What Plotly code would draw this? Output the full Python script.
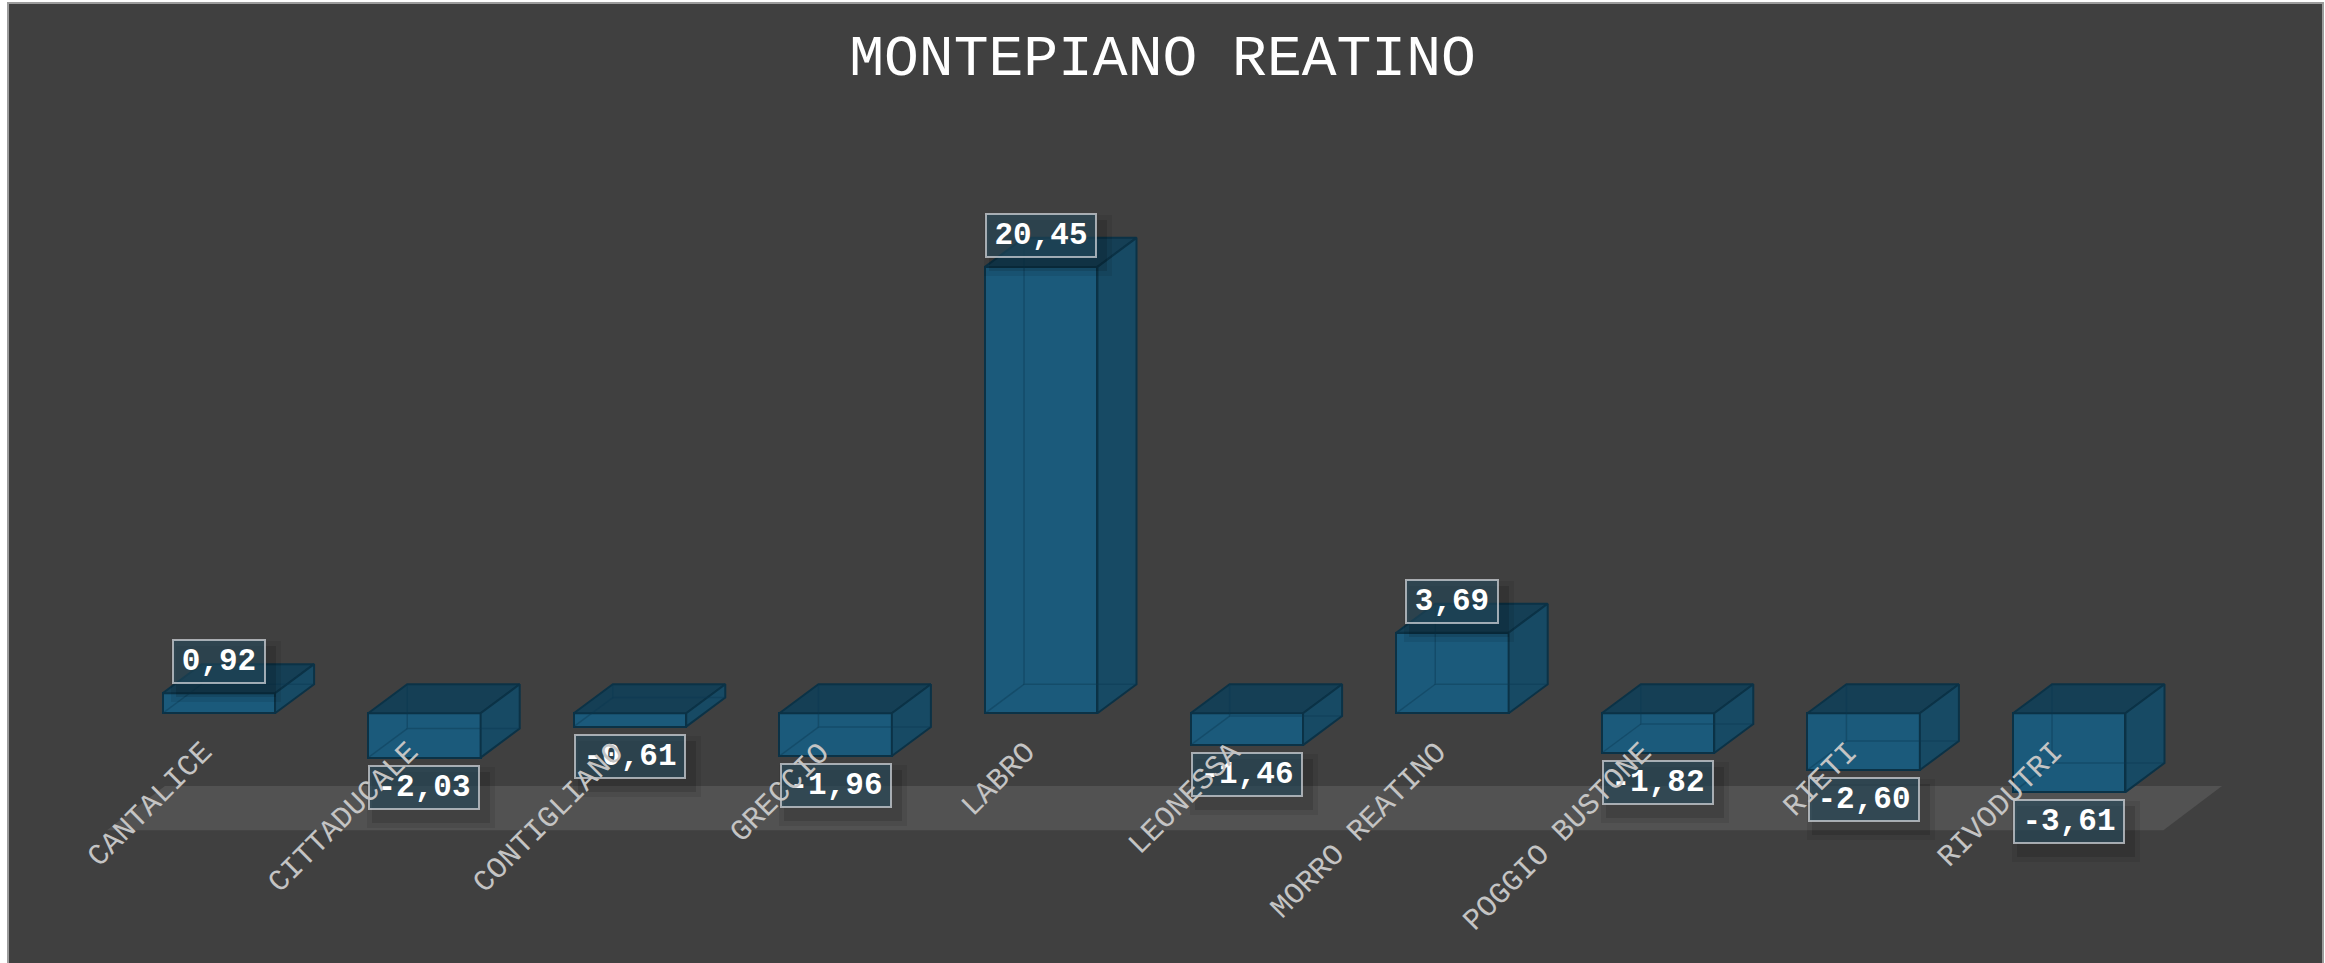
import plotly.graph_objects as go

# ---------------- data ----------------
chart_title = "MONTEPIANO REATINO"
comuni = ["CANTALICE", "CITTADUCALE", "CONTIGLIANO", "GRECCIO", "LABRO",
          "LEONESSA", "MORRO REATINO", "POGGIO BUSTONE", "RIETI", "RIVODUTRI"]
valori = [0.92, -2.03, -0.61, -1.96, 20.45, -1.46, 3.69, -1.82, -2.60, -3.61]
etichette = [f"{v:.2f}".replace(".", ",") for v in valori]

# ---------------- style / geometry ----------------
W, H = 2325, 963
BG = "#404040"
FLOOR = "#525252"
FRONT = "#1b5a7b"
SIDE = "#174a64"
TOP = "#153f55"
EDGE = "#0b3246"
FONT = "Courier New, Nimbus Mono PS, FreeMono, Liberation Mono, monospace"

BAR_W = 0.547          # bar width in category units
DX, DY = 0.19, 1.33    # 3D depth offset (x in category units, y in value units)
X_RANGE = [-1.0253, 10.2344]
Y_RANGE = [-11.44, 32.54]

pos = list(range(len(comuni)))

fig = go.Figure()

# front faces
fig.add_trace(go.Bar(
    x=pos, y=valori, width=BAR_W,
    marker=dict(color=FRONT, line=dict(color=EDGE, width=2)),
    hoverinfo="skip", showlegend=False))

# top and side faces, hidden edges
tx, ty, sx, sy, hx, hy = [], [], [], [], [], []
for i, v in zip(pos, valori):
    xl, xr = i - BAR_W / 2, i + BAR_W / 2
    top, bot = max(v, 0), min(v, 0)
    tx += [xl, xr, xr + DX, xl + DX, xl, None]
    ty += [top, top, top + DY, top + DY, top, None]
    sx += [xr, xr + DX, xr + DX, xr, xr, None]
    sy += [top, top + DY, bot + DY, bot, top, None]
    hx += [xl + DX, xl + DX, xr + DX, None, xl, xl + DX, None]
    hy += [top + DY, bot + DY, bot + DY, None, bot, bot + DY, None]

fig.add_trace(go.Scatter(x=tx, y=ty, mode="lines", fill="toself", fillcolor=TOP,
                         line=dict(color=EDGE, width=2), hoverinfo="skip", showlegend=False))
fig.add_trace(go.Scatter(x=sx, y=sy, mode="lines", fill="toself", fillcolor=SIDE,
                         line=dict(color=EDGE, width=2), hoverinfo="skip", showlegend=False))
fig.add_trace(go.Scatter(x=hx, y=hy, mode="lines",
                         line=dict(color="rgba(10,55,80,0.4)", width=1.5),
                         hoverinfo="skip", showlegend=False))

# floor (decorative)
fl_bl, fl_tl, fl_br, fl_tr = -0.544, -0.262, 9.458, 9.743
fl_top, fl_bot = -3.33, -5.36
fig.add_shape(type="path", xref="x", yref="y", layer="below",
              path=f"M {fl_bl} {fl_bot} L {fl_tl} {fl_top} L {fl_tr} {fl_top} L {fl_br} {fl_bot} Z",
              fillcolor=FLOOR, line=dict(width=0))

# chart border
fig.add_shape(type="rect", xref="paper", yref="paper", x0=0, x1=1, y0=-0.05, y1=1,
              line=dict(color="#9c9c9c", width=2), fillcolor="rgba(0,0,0,0)", layer="above")

annotations = []
CHAR_W, BOX_H = 18, 45
# shadows of value labels
for i, v, t in zip(pos, valori, etichette):
    s = 1 if v >= 0 else -1
    gap = 9 if v >= 0 else 7
    c = s * (gap + BOX_H / 2)
    bw = CHAR_W * len(t) + 22
    for extra, alpha in [(16, 0.08), (6, 0.12)]:
        annotations.append(dict(
            x=i, y=v, xref="x", yref="y", text=t, showarrow=False,
            font=dict(family=FONT, size=30, color="rgba(0,0,0,0)"),
            bgcolor=f"rgba(0,0,0,{alpha})", borderwidth=0, borderpad=0,
            width=bw + extra, height=BOX_H + extra,
            xanchor="center", yanchor="middle", xshift=7, yshift=c - 10))
# value labels
for i, v, t in zip(pos, valori, etichette):
    s = 1 if v >= 0 else -1
    gap = 9 if v >= 0 else 7
    c = s * (gap + BOX_H / 2)
    bw = CHAR_W * len(t) + 22
    annotations.append(dict(
        x=i, y=v, xref="x", yref="y", text=f"<b>{t}</b>", showarrow=False,
        font=dict(family=FONT, size=31, color="white"),
        bgcolor="rgba(38,78,98,0.55)", bordercolor="rgba(205,210,215,0.75)",
        borderwidth=2, borderpad=1,
        width=bw - 6, height=BOX_H - 6,
        xanchor="center", yanchor="middle", yshift=c))
# category labels
for i, name in zip(pos, comuni):
    annotations.append(dict(
        x=i, y=0, xref="x", yref="y", text=name, showarrow=False,
        textangle=-45, xanchor="right", yanchor="top", xshift=4, yshift=-20,
        font=dict(family=FONT, size=30, color="#c4c4c4")))

fig.update_layout(
    width=W, height=H, autosize=False,
    margin=dict(l=8, r=2, t=3, b=0, pad=0),
    paper_bgcolor="white", plot_bgcolor=BG,
    title=dict(text=chart_title, x=0.5, xanchor="center", y=1 - 55 / H, yanchor="middle",
               font=dict(family=FONT, size=58, color="white")),
    xaxis=dict(range=X_RANGE, visible=False, showgrid=False, zeroline=False, fixedrange=True),
    yaxis=dict(range=Y_RANGE, visible=False, showgrid=False, zeroline=False, fixedrange=True),
    annotations=annotations,
    showlegend=False,
    bargap=0,
)

fig.write_html("out.html", config={"displayModeBar": False},
               post_script="document.body.style.margin='0px';")
